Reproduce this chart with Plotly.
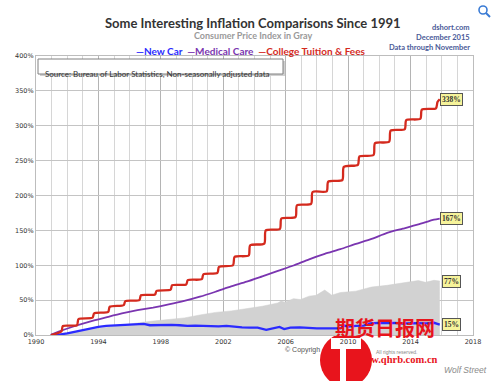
import plotly.graph_objects as go

# ---------------- data (percent change since Dec 1990) ----------------
tuition_years = list(range(1991, 2016))
tuition_before_fall = [5, 14, 24.8, 33, 42.9, 50, 58, 65, 72.4, 80, 89, 100, 114, 131, 152,
                       169, 188, 206, 222, 244, 258, 277, 295, 310, 325]
tuition_after_fall = [12.9, 22.9, 31, 40.5, 48.6, 57, 63.3, 71.4, 78.6, 87, 97.6, 112, 128.6, 150, 167,
                      186, 205, 220, 241, 256, 275, 293, 308, 323, 334]
tuition_start = (1990.95, 0)
tuition_end = (2015.87, 338)

medical_x = [1990.95, 1991.5, 1992.5, 1993.5, 1994.5, 1995.5, 1996.5, 1997.5, 1998.5, 1999.5,
             2000.5, 2001.5, 2002.5, 2003.5, 2004.5, 2005.5, 2006.5, 2007.5, 2008.5, 2009.5,
             2010.5, 2011.5, 2012.5, 2013.5, 2014.5, 2015.5, 2015.87]
medical_y = [0, 5.1, 12.9, 19.6, 25.3, 30.9, 35.5, 39.3, 43.8, 48.8,
             54.9, 62.0, 69.6, 76.4, 84.1, 91.9, 99.6, 108.5, 116.2, 123.0,
             130.6, 137.7, 146.4, 152.4, 158.5, 165.3, 167]

cpi_x = [1990.95, 1991.5, 1992.5, 1993.5, 1994.5, 1995.5, 1996.5, 1997.5, 1998.5, 1999.5,
         2000.5, 2001.5, 2002.5, 2003.5, 2004.5, 2005.5, 2005.7, 2005.95, 2006.5, 2006.95,
         2007.5, 2007.95, 2008.5, 2008.95, 2009.5, 2010.5, 2011.5, 2012.5, 2013.5, 2014.5,
         2014.95, 2015.5, 2015.87]
cpi_y = [0, 1.8, 4.9, 8.0, 10.8, 13.9, 17.3, 20.0, 21.8, 24.5,
         28.7, 32.4, 34.5, 37.5, 41.2, 46.0, 48.6, 47.1, 52.1, 50.8,
         55.7, 56.9, 64.4, 57.1, 60.9, 62.9, 68.8, 71.2, 74.6, 78.1,
         75.5, 78.4, 77.35]

car_x = [1990.95, 1991.5, 1992.0, 1992.5, 1993.0, 1993.5, 1994.0, 1994.5, 1995.0, 1995.5,
         1996.0, 1996.5, 1996.9, 1997.3, 1997.8, 1998.2, 1998.7, 1999.2, 1999.7, 2000.2,
         2000.7, 2001.2, 2001.7, 2002.2, 2002.7, 2003.2, 2003.7, 2004.2, 2004.75, 2005.1,
         2005.6, 2005.9, 2006.3, 2006.9, 2007.5, 2008.0, 2008.5, 2009.0, 2009.5, 2009.75,
         2010.0, 2010.5, 2011.0, 2011.4, 2011.9, 2012.5, 2013.0, 2013.5, 2014.0, 2014.5,
         2015.0, 2015.5, 2015.87]
car_y = [0, 0.5, 2.5, 5, 7.5, 9, 11.5, 13, 13.5, 14,
         15, 15.5, 16, 14, 14.5, 15, 14.5, 14, 13, 13.5,
         13, 13.5, 12.5, 13, 11.5, 11, 10.5, 10.5, 7.5, 9.5,
         11.5, 8.5, 10.5, 11, 10, 9.5, 9.5, 9, 9.5, 13.5,
         12, 13, 13.5, 16.5, 17.5, 17, 17.5, 16.5, 17, 17,
         16.5, 17.5, 15]

end_labels = ["338%", "167%", "77%", "15%"]
end_values = [338, 167, 77, 15]

# ---------------- build tuition staircase points ----------------
tx, ty = [tuition_start[0]], [tuition_start[1]]
for yr, a, b in zip(tuition_years, tuition_before_fall, tuition_after_fall):
    tx += [yr + 7.5 / 12, yr + 8.7 / 12]
    ty += [a, b]
tx.append(tuition_end[0]); ty.append(tuition_end[1])

# ---------------- geometry helpers (pixel -> paper) ----------------
W, H = 500, 381
L, R, T, B = 36, 27, 56, 46
PW, PH = W - L - R, H - T - B
def px(x): return (x - L) / PW
def py(y): return (H - B - y) / PH

RED, PURPLE, BLUE = "#d42a1e", "#7a35b0", "#2b2bff"

fig = go.Figure()
fig.add_trace(go.Scatter(x=cpi_x, y=cpi_y, mode="lines", fill="tozeroy",
                         line=dict(color="#cfcfcf", width=0.5), fillcolor="#d2d2d2",
                         hoverinfo="skip", showlegend=False))
fig.add_trace(go.Scatter(x=car_x, y=car_y, mode="lines", line=dict(color=BLUE, width=2.3),
                         showlegend=False))
fig.add_trace(go.Scatter(x=medical_x, y=medical_y, mode="lines",
                         line=dict(color=PURPLE, width=1.8, shape="spline", smoothing=0.6),
                         showlegend=False))
fig.add_trace(go.Scatter(x=tx, y=ty, mode="lines",
                         line=dict(color=RED, width=2.3, shape="spline", smoothing=0.7),
                         showlegend=False))

ann = []
# title block
ann.append(dict(x=px(253), y=py(14), text="<b>Some Interesting Inflation Comparisons Since 1991</b>",
                font=dict(family="Lato", size=13, color="#333333"), borderpad=0))
ann.append(dict(x=px(253), y=py(28.5), text="<b>Consumer Price Index in Gray</b>",
                font=dict(family="Lato", size=9, color="#9a9a9a"), borderpad=0))
ann.append(dict(x=px(251), y=py(43.5),
                text=(f"<b><span style='color:{BLUE}'>\u2014New Car</span>  "
                      f"<span style='color:{PURPLE}'>\u2014Medical Care</span>  "
                      f"<span style='color:{RED}'>\u2014College Tuition &amp; Fees</span></b>"),
                font=dict(family="Lato", size=10), borderpad=0))
for txt, yy in [("dshort.com", 21), ("December 2015", 31), ("Data through November", 41)]:
    ann.append(dict(x=px(472), y=py(yy), xanchor="right", text=f"<b>{txt}</b>",
                    font=dict(family="Lato", size=7.5, color="#4a5a98")))
# source box text
ann.append(dict(x=px(43), y=py(66.5), xanchor="left",
                text="Source: Bureau of Labor Statistics, Non-seasonally adjusted data",
                font=dict(family="Lato", size=8, color="#333333")))
# end labels
for txt, val in zip(end_labels, end_values):
    ann.append(dict(x=2016.6, y=val, xref="x", yref="y", text=f"<b>{txt}</b>",
                    bgcolor="#f6f39a", bordercolor="#555555", borderwidth=1, borderpad=1,
                    font=dict(family="Liberation Serif", size=7.5, color="#333333")))
# copyright / watermark
ann.append(dict(x=px(283), y=py(356), xanchor="left", text="\u00a9 Copyrigh",
                font=dict(family="Liberation Sans", size=7, color="#555555")))
ann.append(dict(x=px(374), y=py(356.5), xanchor="left", text="All rights reserved.",
                font=dict(family="Liberation Sans", size=5, color="#888888")))
ann.append(dict(x=px(437), y=py(344), text="<b>期货日报网</b>",
                font=dict(family="Noto Sans CJK SC", size=20, color="#e8141c")))
ann.append(dict(x=px(440), y=py(366.5), text="<b>www.qhrb.com.cn</b>",
                font=dict(family="Liberation Serif", size=10.5, color="#e8141c")))
ann.append(dict(x=px(489), y=py(376.5), xanchor="right", text="<i>Wolf Street</i>",
                font=dict(family="Liberation Sans", size=8.5, color="#8a8a8a")))
for a in ann:
    a.setdefault("xref", "paper"); a.setdefault("yref", "paper")
    a.setdefault("showarrow", False)

shapes = [
    # source box shadow + box
    dict(type="rect", xref="paper", yref="paper", x0=px(40), x1=px(285), y0=py(61), y1=py(76),
         fillcolor="#d0d0d0", line=dict(width=0), layer="above"),
    dict(type="rect", xref="paper", yref="paper", x0=px(38), x1=px(283), y0=py(59), y1=py(74),
         fillcolor="white", line=dict(color="#808080", width=1), layer="above"),
    # watermark logo
    dict(type="circle", xref="paper", yref="paper", x0=px(320), x1=px(372), y0=py(333), y1=py(387),
         fillcolor="#e8141c", line=dict(width=0), layer="below"),
    dict(type="rect", xref="paper", yref="paper", x0=px(331), x1=px(361), y0=py(338), y1=py(349),
         fillcolor="white", line=dict(width=0), layer="below"),
    dict(type="rect", xref="paper", yref="paper", x0=px(340), x1=px(346), y0=py(349), y1=py(381),
         fillcolor="white", line=dict(width=0), layer="below"),
    # magnifier icon
    dict(type="circle", xref="paper", yref="paper", x0=px(479), x1=px(487), y0=py(6), y1=py(14),
         line=dict(color="#3a7bd5", width=1.6), layer="above"),
    dict(type="line", xref="paper", yref="paper", x0=px(486), x1=px(490), y0=py(13), y1=py(17),
         line=dict(color="#3a7bd5", width=2), layer="above"),
]

fig.update_layout(
    width=W, height=H,
    margin=dict(l=L, r=R, t=T, b=B, pad=0),
    paper_bgcolor="white", plot_bgcolor="white",
    annotations=ann, shapes=shapes, showlegend=False,
    xaxis=dict(range=[1990, 2018], tick0=1990, dtick=4, showgrid=True, gridcolor="#b4b4b4",
               gridwidth=1, minor=dict(dtick=1, showgrid=True, gridcolor="#d6d6d6", gridwidth=1),
               showline=True, linecolor="#bdbdbd", mirror=True, zeroline=False,
               ticks="", tickfont=dict(family="DejaVu Sans", size=6.5, color="#333333"),
               fixedrange=True),
    yaxis=dict(range=[0, 400], dtick=50, ticksuffix="%", showgrid=True, gridcolor="#c4c4c4",
               gridwidth=1, showline=True, linecolor="#bdbdbd", mirror=True, zeroline=False,
               ticks="", tickfont=dict(family="DejaVu Sans", size=6.5, color="#333333"),
               fixedrange=True),
)

fig.write_html(
    "out.html",
    config={"displayModeBar": False},
    post_script="document.body.style.margin='0';document.body.style.overflow='hidden';",
)
